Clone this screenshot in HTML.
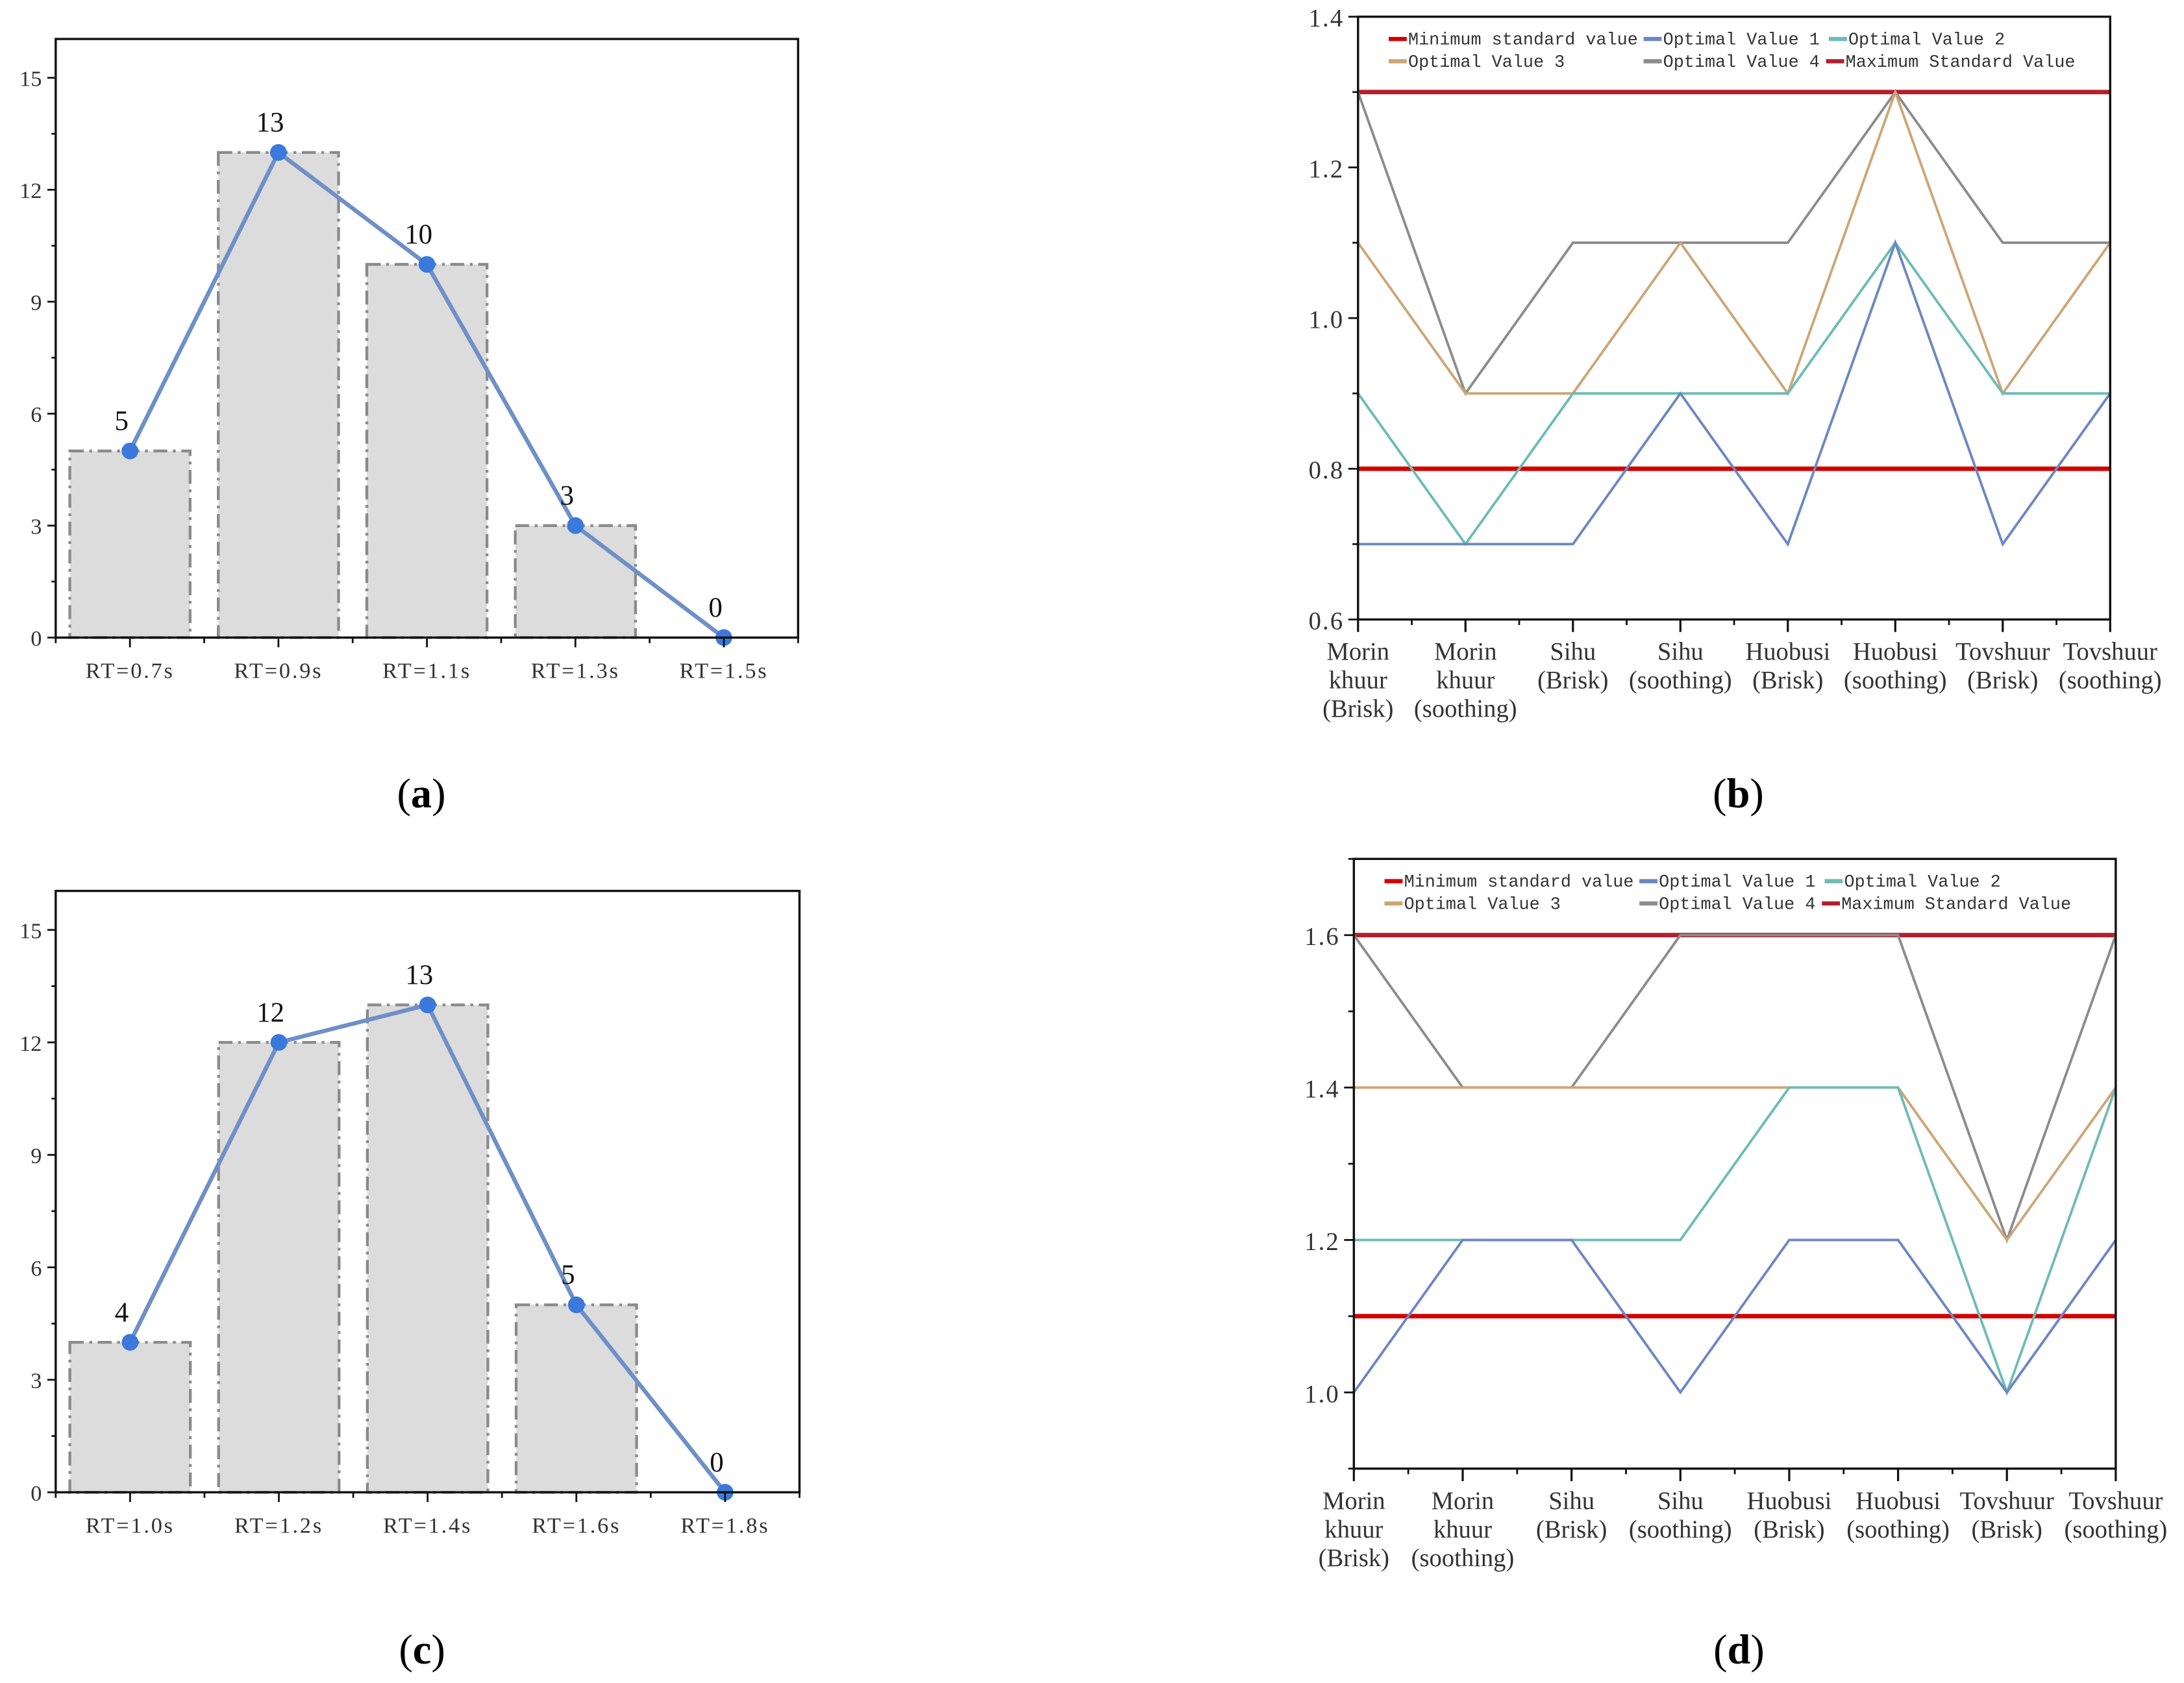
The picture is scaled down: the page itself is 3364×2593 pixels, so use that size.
<!DOCTYPE html>
<html><head><meta charset="utf-8"><style>
html,body{margin:0;padding:0;background:#fff;}
svg{display:block;}
text{font-family:"Liberation Serif","Noto Serif CJK SC",serif;}
text.mono{font-family:"Liberation Mono",monospace;}
</style></head><body>
<svg id="fig" width="3364" height="2593" viewBox="0 0 1568 1209" preserveAspectRatio="none" xmlns="http://www.w3.org/2000/svg"></svg>
<script>
// Panel (a)
const catsA = ["RT=0.7s","RT=0.9s","RT=1.1s","RT=1.3s","RT=1.5s"];
const valsA = [5,13,10,3,0];
// Panel (c)
const catsC = ["RT=1.0s","RT=1.2s","RT=1.4s","RT=1.6s","RT=1.8s"];
const valsC = [4,12,13,5,0];
const barTicks = [0,3,6,9,12,15];
// Panels (b),(d)
const instCats = [["Morin","khuur","(Brisk)"],["Morin","khuur","(soothing)"],["Sihu","(Brisk)"],["Sihu","(soothing)"],["Huobusi","(Brisk)"],["Huobusi","(soothing)"],["Tovshuur","(Brisk)"],["Tovshuur","(soothing)"]];
const seriesNames = ["Optimal Value 1","Optimal Value 2","Optimal Value 3","Optimal Value 4"];
const b_min = 0.8, b_max = 1.3;
const b_v1 = [0.7,0.7,0.7,0.9,0.7,1.1,0.7,0.9];
const b_v2 = [0.9,0.7,0.9,0.9,0.9,1.1,0.9,0.9];
const b_v3 = [1.1,0.9,0.9,1.1,0.9,1.3,0.9,1.1];
const b_v4 = [1.3,0.9,1.1,1.1,1.1,1.3,1.1,1.1];
const b_ticks = [0.6,0.8,1.0,1.2,1.4];
const d_min = 1.1, d_max = 1.6;
const d_v1 = [1.0,1.2,1.2,1.0,1.2,1.2,1.0,1.2];
const d_v2 = [1.2,1.2,1.2,1.2,1.4,1.4,1.0,1.4];
const d_v3 = [1.4,1.4,1.4,1.4,1.4,1.4,1.2,1.4];
const d_v4 = [1.6,1.4,1.4,1.6,1.6,1.6,1.2,1.6];
const d_ticks = [1.0,1.2,1.4,1.6];

const NS="http://www.w3.org/2000/svg";
const svg=document.getElementById('fig');
function mk(tag,attrs,parent){const e=document.createElementNS(NS,tag);for(const k in attrs)e.setAttribute(k,attrs[k]);(parent||svg).appendChild(e);return e;}

function barPanel(cats,vals,L,R,T,B,ymax,letter,letterY,pname){
  const g=mk('g',{});
  
  
  const n=cats.length, bw=(R-L)/n;
  const x=i=>L+bw*(i+0.5);
  const y=v=>B-(B-T)*v/ymax;
  vals.forEach((v,i)=>{
    const r=mk('rect',{x:x(i)-bw*0.405,y:y(v),width:bw*0.81,height:B-y(v),fill:'#dcdcdc',stroke:'#8a8a8a','stroke-width':2,'stroke-dasharray':'10 4 2 4'},g);
    
    
  });
  const pts=vals.map((v,i)=>x(i)+','+y(v)).join(' ');
  const pl=mk('polyline',{points:pts,fill:'none',stroke:'#6f8fc8','stroke-width':3},g);
  
  
  vals.forEach((v,i)=>{
    const c=mk('circle',{cx:x(i),cy:y(v),r:6,fill:'#3b79dc'},g);
    
    
    const t=mk('text',{x:x(i)-6,y:y(v)-15,'font-size':20,'text-anchor':'middle',fill:'#111'},g);
    t.textContent=v;
    
    
  });
  const fr=mk('rect',{x:L,y:T,width:R-L,height:B-T,fill:'none',stroke:'#111','stroke-width':1.6},g);
  
  
  for(let v=0;v<=15;v+=1.5){
    const major=barTicks.includes(v);
    mk('line',{x1:L-(major?6:3),x2:L,y1:y(v),y2:y(v),stroke:'#111','stroke-width':1.3},g);
  }
  barTicks.forEach(v=>{
    const t=mk('text',{x:L-10,y:y(v)+6,'font-size':16,'text-anchor':'end',fill:'#333'},g);
    t.textContent=v;
    
    
  });
  for(let i=0;i<=n;i++) mk('line',{x1:L+bw*i,x2:L+bw*i,y1:B,y2:B+4,stroke:'#111','stroke-width':1.3},g);
  cats.forEach((c,i)=>{
    mk('line',{x1:x(i),x2:x(i),y1:B,y2:B+7,stroke:'#111','stroke-width':1.3},g);
    const t=mk('text',{x:x(i),y:B+29,'font-size':16,'letter-spacing':1.3,'text-anchor':'middle',fill:'#333'},g);
    t.textContent=c;
    
    
  });
  const lt=mk('text',{x:(L+R)/2-4,y:letterY,'font-size':30,'text-anchor':'middle',fill:'#000'},g);
  lt.innerHTML='(<tspan font-weight="bold">'+letter+'</tspan>)';
  
  
}

function linePanel(series,mn,mx,ticks,ylo,yhi,L,R,T,B,letter,letterY,pname){
  const g=mk('g',{});
  
  
  const n=instCats.length, step=(R-L)/(n-1);
  const x=i=>L+step*i;
  const y=v=>B-(B-T)*(v-ylo)/(yhi-ylo);
  const cols=['#6b87c4','#6cbcb5','#cfa576','#8c8c8c'];
  const draw=[3,2,1,0];
  const mnl=mk('line',{x1:L,x2:R,y1:y(mn),y2:y(mn),stroke:'#d40000','stroke-width':3.2},g);
  
  
  const mxl=mk('line',{x1:L,x2:R,y1:y(mx),y2:y(mx),stroke:'#b3202e','stroke-width':3.2},g);
  
  
  draw.forEach(k=>{
    const pts=series[k].map((v,i)=>x(i)+','+y(v)).join(' ');
    const p=mk('polyline',{points:pts,fill:'none',stroke:cols[k],'stroke-width':1.8},g);
    
    
  });
  const fr=mk('rect',{x:L,y:T,width:R-L,height:B-T,fill:'none',stroke:'#111','stroke-width':1.6},g);
  
  
  for(let v=Math.ceil(ylo*10)/10;v<=yhi+1e-9;v+=0.1){
    const vv=Math.round(v*10)/10;
    const major=ticks.some(t=>Math.abs(t-vv)<1e-6);
    mk('line',{x1:L-(major?7:4),x2:L,y1:y(vv),y2:y(vv),stroke:'#111','stroke-width':1.3},g);
  }
  ticks.forEach(v=>{
    const t=mk('text',{x:L-10,y:y(v)+7,'font-size':18,'letter-spacing':1,'text-anchor':'end',fill:'#333'},g);
    t.textContent=v.toFixed(1);
    
    
  });
  for(let i=0;i<n;i++){
    mk('line',{x1:x(i),x2:x(i),y1:B,y2:B+9,stroke:'#111','stroke-width':1.5},g);
    if(i<n-1) mk('line',{x1:x(i)+step/2,x2:x(i)+step/2,y1:B,y2:B+4,stroke:'#111','stroke-width':1.3},g);
    instCats[i].forEach((s,j)=>{
      const t=mk('text',{x:x(i),y:B+29+j*20.5,'font-size':18,'text-anchor':'middle',fill:'#333'},g);
      t.textContent=s;
      
      
    });
  }
  // legend
  const lg=mk('g',{},g);
  
  
  const entries=[['Minimum standard value','#d40000',L+22,T+20],[seriesNames[0],cols[0],L+205,T+20],[seriesNames[1],cols[1],L+338,T+20],
    [' Optimal Value 3',cols[2],L+22,T+36],[seriesNames[3],cols[3],L+205,T+36],['Maximum Standard Value','#b3202e',L+336,T+36]];
  entries.forEach(e=>{
    const ln=mk('line',{x1:e[2],x2:e[2]+13,y1:e[3]-4,y2:e[3]-4,stroke:e[1],'stroke-width':3},lg);
    
    
    const t=mk('text',{x:e[2]+14,y:e[3],'font-size':12.5,'class':'mono',fill:'#333','xml:space':'preserve'},lg);
    t.textContent=e[0];
    
    
  });
  const lt=mk('text',{x:(L+R)/2+3,y:letterY,'font-size':30,'text-anchor':'middle',fill:'#000'},g);
  lt.innerHTML='(<tspan font-weight="bold">'+letter+'</tspan>)';
  
  
}

barPanel(catsA,valsA,40,573,28,458,16.04,'a',580,'chart-a');
linePanel([b_v1,b_v2,b_v3,b_v4],b_min,b_max,b_ticks,0.6,1.4,975,1515,12,445,'b',580,'chart-b');
barPanel(catsC,valsC,40,574,640,1072,16.04,'c',1195,'chart-c');
linePanel([d_v1,d_v2,d_v3,d_v4],d_min,d_max,d_ticks,0.9,1.7,972,1519,617,1055,'d',1195,'chart-d');
</script>
</body></html>
